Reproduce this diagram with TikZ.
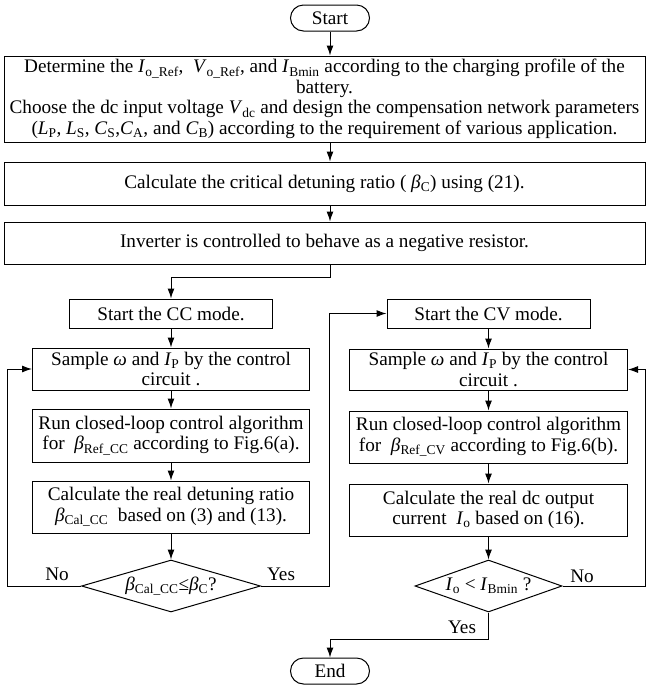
\documentclass[tikz,border=0pt]{standalone}
\usepackage{fontspec}
\setmainfont{Liberation Serif}
\usetikzlibrary{arrows.meta,shapes.geometric}
\newcommand{\vr}[2]{\textit{#1}\textsubscript{#2}}

\begin{document}
\begin{tikzpicture}[x=1pt,y=-1pt,
	every node/.style={font=\fontsize{19.2}{20.5}\selectfont},
	box/.style={draw,line width=1pt,align=center,inner sep=1pt},
	term/.style={box,rounded corners=13pt,minimum width=79pt,minimum height=26pt},
	cond/.style={draw,line width=1pt,diamond,inner sep=0pt,minimum height=52pt},
	arr/.style={line width=1pt,-{Latex[length=10pt,width=7pt]}}]
	\useasboundingbox (0,0) rectangle (648,689);
	\node[term] (start) at (330,18) {Start};
	\node[box,minimum width=641pt,minimum height=86pt] (prep) at (324.5,99)
		{Determine the \vr{I}{o\_Ref}, \ \vr{V}{o\_Ref}, and \vr{I}{Bmin} according to the charging profile of the\\
		battery.\\
		Choose the dc input voltage \vr{V}{dc} and design the compensation network parameters\\
		(\vr{L}{P}, \vr{L}{S}, \vr{C}{S},\vr{C}{A}, and \vr{C}{B}) according to the requirement of various application.};
	\node[box,minimum width=641pt,minimum height=43pt] (crit) at (324.5,183.5)
		{Calculate the critical detuning ratio ( \vr{β}{C}) using (21).};
	\node[box,minimum width=641pt,minimum height=42pt] (inv) at (324.5,243)
		{Inverter is controlled to behave as a negative resistor.};
	\node[box,minimum width=203pt,minimum height=29pt] (ccstart) at (171,313.5) {Start the CC mode.};
	\node[box,minimum width=277pt,minimum height=42pt] (smpl) at (171,369)
		{Sample \textit{ω} and \vr{I}{P} by the control\\ circuit .};
	\node[box,minimum width=277pt,minimum height=53pt] (runl) at (171,435.5)
		{Run closed-loop control algorithm\\ for \ \vr{β}{Ref\_CC} according to Fig.6(a).};
	\node[box,minimum width=277pt,minimum height=52pt] (call) at (171,507)
		{Calculate the real detuning ratio\\ \vr{β}{Cal\_CC} \ based on (3) and (13).};
	\node[cond,minimum width=179pt,aspect=3.44] (decl) at (171,586)
		{\vr{β}{Cal\_CC}≤\vr{β}{C}?};
	\node[box,minimum width=203pt,minimum height=29pt] (cvstart) at (488.5,313.5) {Start the CV mode.};
	\node[box,minimum width=278pt,minimum height=41pt] (smpr) at (488.5,369.5)
		{Sample \textit{ω} and \vr{I}{P} by the control\\ circuit .};
	\node[box,minimum width=278pt,minimum height=52pt] (runr) at (488.5,437)
		{Run closed-loop control algorithm\\ for \ \vr{β}{Ref\_CV} according to Fig.6(b).};
	\node[box,minimum width=278pt,minimum height=52pt] (calr) at (488.5,510)
		{Calculate the real dc output\\ current \ \vr{I}{o} based on (16).};
	\node[cond,minimum width=147pt,aspect=2.83] (decr) at (488.5,586)
		{\vr{I}{o} < \vr{I}{Bmin} ?};
	\node[term] (stop) at (330,671) {End};
	\node (nol) at (57,574) {No};
	\node (yesl) at (281,574) {Yes};
	\node (nor) at (582,576) {No};
	\node (yesr) at (462,627) {Yes};
	\coordinate (split) at (330,277);
	\coordinate (loopl) at (7,586);
	\coordinate (jump) at (329,586);
	\coordinate (loopr) at (645,586);
	\coordinate (merge) at (488.5,639);
	\draw[arr] (start) -- (start |- prep.north);
	\draw[arr] (start |- prep.south) -- (start |- crit.north);
	\draw[arr] (start |- crit.south) -- (start |- inv.north);
	\draw[arr] (start |- inv.south) -- (split) -| (ccstart);
	\draw[arr] (ccstart) -- (smpl);
	\draw[arr] (smpl) -- (runl);
	\draw[arr] (runl) -- (call);
	\draw[arr] (call) -- (decl);
	\draw[arr] (decl.west) -- (loopl) |- (smpl);
	\draw[arr] (decl.east) -- (jump) |- (cvstart);
	\draw[arr] (cvstart) -- (smpr);
	\draw[arr] (smpr) -- (runr);
	\draw[arr] (runr) -- (calr);
	\draw[arr] (calr) -- (decr);
	\draw[arr] (decr.east) -- (loopr) |- (smpr);
	\draw[arr] (decr.south) -- (merge) -| (stop);
\end{tikzpicture}
\end{document}
